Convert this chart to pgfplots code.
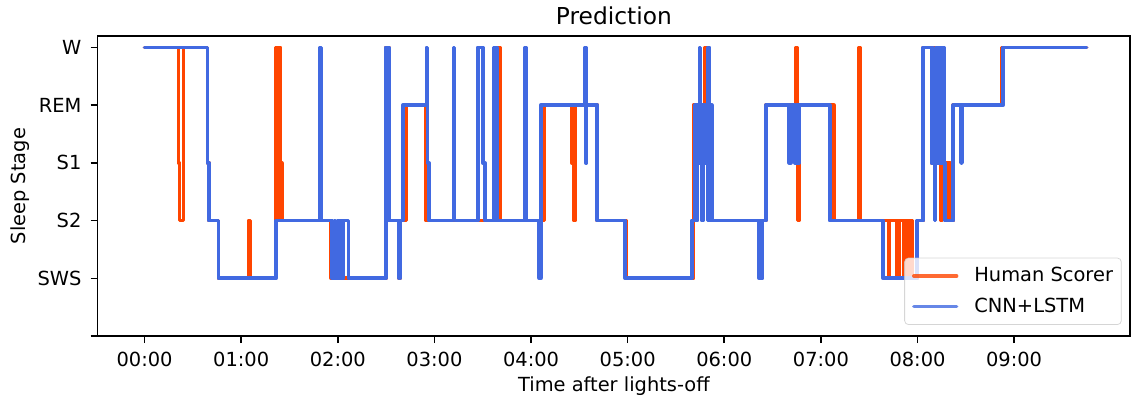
\documentclass[border=0pt]{standalone}
\usepackage{fontspec}
\setmainfont{DejaVu Sans}
\usepackage{pgfplots}
\pgfplotsset{compat=1.18}

\definecolor{humancol}{HTML}{FF4500}
\definecolor{netcol}{HTML}{4169E1}

\begin{document}
\begin{tikzpicture}
\useasboundingbox (-50.3pt,-33.5pt) rectangle (532.5pt,173pt);
\begin{axis}[
  at={(0,0)}, anchor=south west,
  scale only axis,
  width=531.5pt, height=154.5pt,
  xmin=-0.485, xmax=10.2,
  ymin=-1, ymax=4.2,
  axis line style={line width=0.8pt},
  every tick/.style={black, line width=0.8pt},
  tick align=outside,
  major tick length=3.6pt,
  xtick pos=bottom, ytick pos=left,
  xtick={0,1,2,3,4,5,6,7,8,9},
  xticklabels={00:00,01:00,02:00,03:00,04:00,05:00,06:00,07:00,08:00,09:00},
  ytick={-1,0,1,2,3,4},
  yticklabels={,SWS,S2,S1,REM,W},
  tick label style={font=\fontsize{10}{12}\selectfont, inner sep=0pt},
  xticklabel style={anchor=north, yshift=-4.5pt},
  yticklabel style={anchor=east, xshift=-4.6pt},
  every axis title shift=0pt,
  title={Prediction},
  title style={at={(axis description cs:0.5,1.0369)}, anchor=base,
    font=\fontsize{12}{14}\selectfont, inner sep=0pt},
  xlabel={Time after lights-off},
  xlabel style={at={(axis description cs:0.5,-0.1832)}, anchor=base,
    font=\fontsize{10}{12}\selectfont, inner sep=0pt},
  ylabel={Sleep Stage},
  ylabel style={at={(axis description cs:-0.0696,0.5)}, anchor=base,
    font=\fontsize{10}{12}\selectfont, inner sep=0pt},
  legend style={at={(axis description cs:1,0)}, anchor=south east,
    xshift=-4.3pt, yshift=5.7pt,
    draw=black!20, rounded corners=2pt, fill=white,
    fill opacity=0.8, draw opacity=0.8, text opacity=1,
    font=\fontsize{10}{12}\selectfont,
    inner xsep=3.8pt, inner ysep=4.3pt, row sep=5.8pt, column sep=7.7pt,
    nodes={inner sep=0.5pt}},
  legend cell align=left,
  legend image code/.code={\draw[#1] (0pt,0pt) -- (22pt,0pt);},
]

% manual scoring
\addplot[const plot, color=humancol, line width=1.9pt, line join=round, line cap=round]
coordinates {
(0,4) (0.352,2) (0.362,1) (0.404,4) (0.652,2) (0.666,1) (0.766,0)
(1.078,1) (1.095,0) (1.355,4) (1.37,1) (1.39,4) (1.405,2) (1.42,1)
(1.93,0) (2.497,4) (2.53,1) (2.635,0) (2.645,1) (2.71,3) (2.914,1)
(3.665,4) (3.68,1) (4.138,3) (4.421,2) (4.445,1) (4.455,3) (4.686,1)
(4.983,0) (5.68,3) (5.75,2) (5.765,1) (5.775,3) (5.80,4) (5.81,3)
(5.86,1) (6.43,3) (6.742,4) (6.75,3) (6.758,1) (6.772,3) (7.135,1)
(7.396,4) (7.405,1) (7.70,0) (7.708,1) (7.785,0) (7.795,1) (7.805,0)
(7.815,1) (7.86,0) (7.87,1) (7.88,0) (7.89,1) (7.91,0) (7.93,1)
(7.94,0) (8.0,1) (8.059,4) (8.145,2) (8.165,4) (8.19,2) (8.21,4)
(8.23,2) (8.245,1) (8.26,2) (8.315,1) (8.325,2) (8.335,1) (8.369,3)
(8.87,4) (9.75,4)
};
\addlegendentry{Human Scorer}

% network output
\addplot[const plot, color=netcol, line width=1.9pt, line join=round, line cap=round]
coordinates {
(0,4) (0.652,2) (0.666,1) (0.766,0) (1.362,1) (1.818,4) (1.83,1)
(1.94,0) (1.965,1) (1.975,0) (2.0,1) (2.01,0) (2.035,1) (2.045,0)
(2.06,1) (2.11,0) (2.497,4) (2.51,1) (2.518,4) (2.53,1) (2.635,0)
(2.645,1) (2.673,3) (2.921,4) (2.93,2) (2.945,1) (3.197,4) (3.207,1)
(3.449,4) (3.50,2) (3.524,1) (3.61,4) (3.625,1) (3.632,4) (3.645,1)
(3.938,4) (3.948,1) (4.086,0) (4.10,3) (4.559,4) (4.566,2) (4.575,3)
(4.686,1) (4.973,0) (5.663,1) (5.697,3) (5.71,1) (5.72,3) (5.735,2)
(5.748,4) (5.755,3) (5.77,1) (5.78,3) (5.795,2) (5.81,3) (5.825,1)
(5.835,4) (5.845,3) (5.855,1) (5.862,3) (5.87,1) (6.359,0) (6.37,1)
(6.38,0) (6.395,1) (6.43,3) (6.672,2) (6.688,3) (6.73,2) (6.75,3)
(6.76,2) (6.775,3) (7.093,1) (7.645,0) (7.996,1) (8.059,4) (8.145,2)
(8.155,4) (8.165,2) (8.175,1) (8.185,4) (8.195,2) (8.205,4) (8.215,2)
(8.225,4) (8.235,2) (8.245,4) (8.255,2) (8.265,4) (8.275,2) (8.285,1)
(8.369,3) (8.45,2) (8.46,3) (8.886,4) (9.75,4)
};
\addlegendentry{CNN+LSTM}

\end{axis}
\end{tikzpicture}
\end{document}
